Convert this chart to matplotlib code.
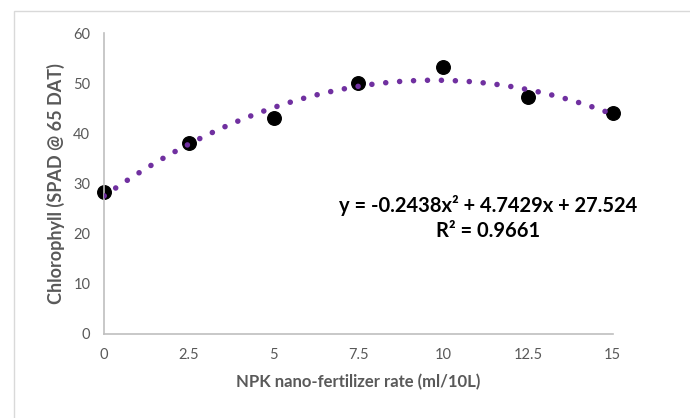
import numpy as np
import matplotlib
matplotlib.use("Agg")
from matplotlib import pyplot as plt
from matplotlib.patches import Rectangle

# dados
rates = [0, 2.5, 5, 7.5, 10, 12.5, 15]
chlorophyll = [28.3, 38.1, 43.0, 50.0, 53.2, 47.2, 44.0]
coefs = [-0.2438, 4.7429, 27.524]   # linha de tendencia (polinomial 2a ordem)
x_ticks = [0, 2.5, 5, 7.5, 10, 12.5, 15]
x_labels = ["0", "2.5", "5", "7.5", "10", "12.5", "15"]
y_ticks = [0, 10, 20, 30, 40, 50, 60]

plt.rcParams['font.family'] = ['Lato', 'DejaVu Sans']

fig = plt.figure(figsize=(6.9, 4.18), dpi=100)
ax = fig.add_axes([0.151, 0.201, 0.737, 0.72])

# borda do grafico estilo Excel
fig.patches.append(Rectangle((0.02, -0.01), 1.0, 0.984, transform=fig.transFigure,
                             fill=False, edgecolor='#d9d9d9', linewidth=1))

ax.scatter(rates, chlorophyll, s=95, color='black', zorder=2, clip_on=False)

xs = np.linspace(0, 15, 300)
ax.plot(xs, np.polyval(coefs, xs), color='#7030A0', linewidth=4,
        linestyle=(0, (0.01, 2.5)), dash_capstyle='round', zorder=3)

ax.set_xlim(0, 15)
ax.set_ylim(0, 60)
ax.set_xticks(x_ticks)
ax.set_xticklabels(x_labels)
ax.set_yticks(y_ticks)
ax.tick_params(length=0, labelsize=10.5, colors='#595959', pad=10)
for s in ['top', 'right']:
    ax.spines[s].set_visible(False)
for s in ['left', 'bottom']:
    ax.spines[s].set_color('#bfbfbf')
    ax.spines[s].set_linewidth(1.2)

ax.set_xlabel('NPK nano-fertilizer rate (ml/10L)', fontsize=12, fontweight='bold',
              color='#595959', labelpad=9)
ax.set_ylabel('Chlorophyll (SPAD @ 65 DAT)', fontsize=13, fontweight='bold',
              color='#595959', labelpad=6)

ax.text(0.755, 0.385, 'y = -0.2438x² + 4.7429x + 27.524\nR² = 0.9661',
        transform=ax.transAxes, ha='center', va='center', fontsize=14.5,
        fontweight='bold', color='black', linespacing=1.35)

fig.savefig('out.png', dpi=100)
